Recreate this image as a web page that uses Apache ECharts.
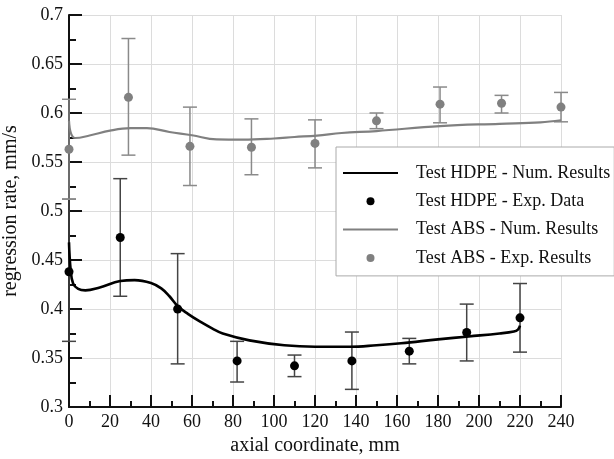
<!DOCTYPE html>
<html>
<head>
<meta charset="utf-8">
<script src="https://cdn.jsdelivr.net/npm/echarts@6/dist/echarts.min.js"></script>
<style>html,body{margin:0;padding:0;background:#fff}#c{width:614px;height:459px}</style>
</head>
<body>
<div id="c"></div>
<script>
// ---- data ----
const hdpeNum = [[0,0.468],[0.8,0.44],[2,0.426],[4.5,0.4205],[8,0.419],[15,0.422],[25,0.4285],[32,0.4295],[40,0.4265],[45,0.421],[49,0.413],[53,0.403],[58,0.395],[64,0.387],[70,0.380],[75,0.375],[88,0.368],[105,0.363],[120,0.3615],[137,0.3615],[150,0.363],[162,0.365],[180,0.369],[195,0.372],[210,0.375],[217,0.377],[219,0.379],[220,0.383]];
const absNum = [[0,0.592],[1,0.579],[3,0.5745],[10,0.577],[20,0.582],[30,0.5845],[38,0.5845],[49,0.5806],[60,0.5773],[72,0.573],[85,0.5728],[100,0.574],[110,0.5755],[121,0.577],[133,0.5796],[150,0.5816],[181,0.5867],[210,0.589],[230,0.5905],[240,0.5926]];

const hdpeX  = [0, 25, 53, 82, 110, 138, 166, 194, 220];
const hdpeY  = [0.438, 0.473, 0.400, 0.347, 0.342, 0.347, 0.357, 0.376, 0.391];
const hdpeLo = [0.367, 0.413, 0.344, 0.3255, 0.331, 0.318, 0.344, 0.347, 0.356];
const hdpeHi = [0.512, 0.533, 0.4565, 0.367, 0.353, 0.3765, 0.370, 0.405, 0.426];

const absX  = [0, 29, 59, 89, 120, 150, 181, 211, 240];
const absY  = [0.563, 0.616, 0.566, 0.565, 0.569, 0.592, 0.609, 0.610, 0.606];
const absLo = [0.512, 0.557, 0.526, 0.537, 0.544, 0.584, 0.590, 0.600, 0.591];
const absHi = [0.614, 0.676, 0.606, 0.594, 0.593, 0.600, 0.6265, 0.618, 0.621];

const names = ['Test HDPE - Num. Results','Test HDPE - Exp. Data','Test ABS - Num. Results','Test ABS - Exp. Results'];

const FONT = 'Liberation Serif, Times New Roman, serif';

function errBar(color) {
  return function (params, api) {
    const x = api.value(0), lo = api.value(1), hi = api.value(2);
    const p1 = api.coord([x, lo]), p2 = api.coord([x, hi]);
    const w = 7;
    const st = { stroke: color, lineWidth: 1.5 };
    return { type: 'group', children: [
      { type: 'line', shape: { x1: p1[0], y1: p1[1], x2: p2[0], y2: p2[1] }, style: st },
      { type: 'line', shape: { x1: p1[0]-w, y1: p1[1], x2: p1[0]+w, y2: p1[1] }, style: st },
      { type: 'line', shape: { x1: p2[0]-w, y1: p2[1], x2: p2[0]+w, y2: p2[1] }, style: st }
    ]};
  };
}

const chart = echarts.init(document.getElementById('c'));
chart.setOption({
  animation: false,
  backgroundColor: '#fff',
  grid: { left: 69, top: 15, width: 492, height: 392, containLabel: false, outerBoundsMode: 'none' },
  legend: {
    data: [
      { name: names[0], itemStyle: { opacity: 0 } },
      { name: names[1] },
      { name: names[2], itemStyle: { opacity: 0 } },
      { name: names[3] }
    ],
    orient: 'vertical',
    left: 336, top: 147,
    padding: [16, 4, 8, 6],
    backgroundColor: '#fff',
    borderColor: '#aaa', borderWidth: 1,
    itemWidth: 55, itemHeight: 8, itemGap: 8.3,
    textStyle: { fontFamily: FONT, fontSize: 18, color: '#111', lineHeight: 20, padding: [0,0,0,13] }
  },
  xAxis: {
    type: 'value', min: 0, max: 240, interval: 20,
    name: 'axial coordinate, mm', nameLocation: 'middle', nameGap: 28,
    nameTextStyle: { fontFamily: FONT, fontSize: 20, color: '#111' },
    axisLine: { lineStyle: { color: '#111', width: 2 } },
    axisTick: { inside: true, length: 12, lineStyle: { color: '#111', width: 2 } },
    minorTick: { show: true, splitNumber: 2, length: 6, lineStyle: { color: '#111', width: 2 } },
    axisLabel: { fontFamily: FONT, fontSize: 18, color: '#111', margin: 6 },
    splitLine: { show: true, lineStyle: { color: '#dcdcdc', width: 1 } }
  },
  yAxis: {
    type: 'value', min: 0.3, max: 0.7, interval: 0.05,
    name: 'regression rate, mm/s', nameLocation: 'middle', nameGap: 41,
    nameTextStyle: { fontFamily: FONT, fontSize: 20, color: '#111' },
    axisLine: { show: true, lineStyle: { color: '#111', width: 2 } },
    axisTick: { show: true, inside: true, length: 13, lineStyle: { color: '#111', width: 2 } },
    minorTick: { show: true, splitNumber: 2, length: 7, lineStyle: { color: '#111', width: 2 } },
    axisLabel: { fontFamily: FONT, fontSize: 18, color: '#111', margin: 6, formatter: v => String(+v.toFixed(3)) },
    splitLine: { show: true, lineStyle: { color: '#dcdcdc', width: 1 } }
  },
  series: [
    { type: 'custom', name: 'hdpeErr', renderItem: errBar('#444'), data: hdpeX.map((x,i)=>[x, hdpeLo[i], hdpeHi[i]]), encode: { x: 0, y: [1,2] }, z: 3, silent: true },
    { type: 'custom', name: 'absErr', renderItem: errBar('#8a8a8a'), data: absX.map((x,i)=>[x, absLo[i], absHi[i]]), encode: { x: 0, y: [1,2] }, z: 3, silent: true },
    { type: 'line', name: names[2], data: absNum, smooth: 0.4, symbol: 'none', lineStyle: { color: '#808080', width: 2.2 }, itemStyle: { color: '#808080' }, z: 4 },
    { type: 'line', name: names[0], data: hdpeNum, smooth: 0.4, symbol: 'none', lineStyle: { color: '#000', width: 2.6 }, itemStyle: { color: '#000' }, z: 4 },
    { type: 'scatter', name: names[3], data: absX.map((x,i)=>[x, absY[i]]), symbol: 'circle', symbolSize: 9, itemStyle: { color: '#808080', opacity: 1 }, z: 5 },
    { type: 'scatter', name: names[1], data: hdpeX.map((x,i)=>[x, hdpeY[i]]), symbol: 'circle', symbolSize: 9, itemStyle: { color: '#000', opacity: 1 }, z: 5 }
  ]
});
</script>
</body>
</html>
